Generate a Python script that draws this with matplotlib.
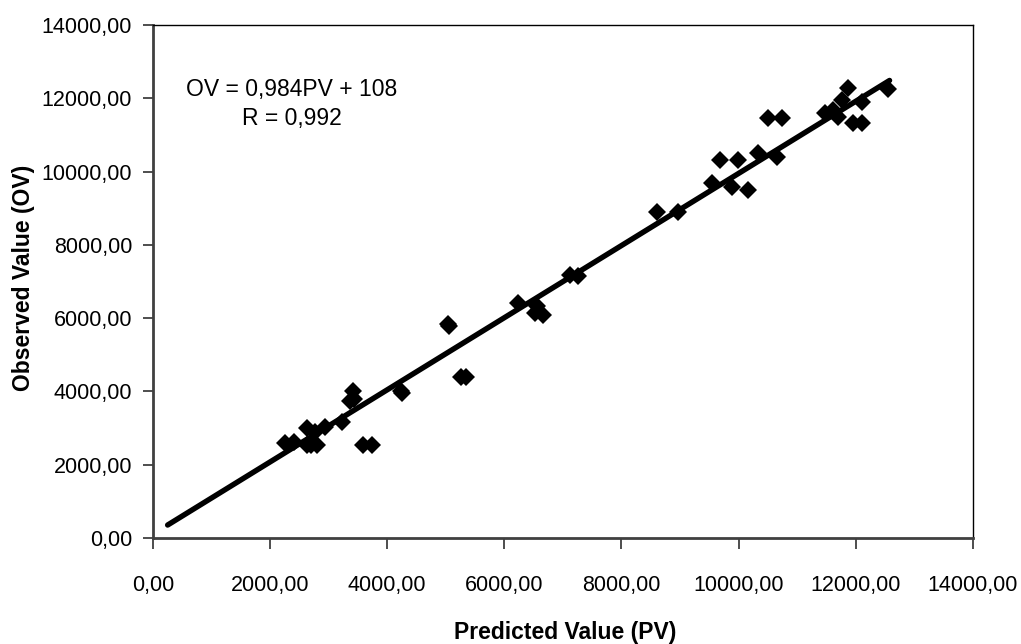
import matplotlib
matplotlib.use("Agg")
import matplotlib.pyplot as plt
from matplotlib import font_manager as fm
from matplotlib.ticker import FuncFormatter

# ---- data ----
predicted = [2254, 2400, 2625, 2770, 2940, 2625, 2700, 2800, 3220, 3360, 3420, 3440,
             3590, 3735, 4230, 4260, 5030, 5060, 5260, 5340, 6240, 6550, 6520, 6660,
             7120, 7265, 8603, 8972, 9542, 9684, 9997, 9884, 10168, 10339, 10653,
             10510, 10738, 11481, 11620, 11700, 11762, 11875, 12103, 11961, 12103, 12560]
observed = [2600, 2620, 2990, 2900, 3040, 2540, 2540, 2540, 3175, 3750, 4000, 3780,
            2540, 2540, 4000, 3950, 5830, 5790, 4400, 4400, 6400, 6330, 6130, 6080,
            7180, 7140, 8906, 8906, 9681, 10317, 10317, 9590, 9498, 10499, 10407,
            11455, 11455, 11591, 11681, 11500, 11954, 12274, 11908, 11318, 11318, 12250]
fit_slope = 0.984
fit_intercept = 108
fit_range = [250, 12580]
annotation = "OV = 0,984PV + 108\nR = 0,992"
x_ticks = [0, 2000, 4000, 6000, 8000, 10000, 12000, 14000]
y_ticks = [0, 2000, 4000, 6000, 8000, 10000, 12000, 14000]

names = {f.name for f in fm.fontManager.ttflist}
base = 'Liberation Sans' if 'Liberation Sans' in names else 'DejaVu Sans'
plt.rcParams['font.family'] = [base, 'DejaVu Sans']

fig = plt.figure(figsize=(10.21, 6.44), dpi=100)
ax = fig.add_axes([153/1021, 1-538/644, (972.7-153)/1021, (538-25)/644])

fit_y = [fit_slope * v + fit_intercept for v in fit_range]
ax.plot(fit_range, fit_y, color='black', lw=3.9, solid_capstyle='round', zorder=2)
ax.plot(predicted, observed, linestyle='none', marker='D', ms=9.3, color='black',
        markeredgewidth=0, zorder=3)

ax.set_xlim(0, 14000)
ax.set_ylim(0, 14000)
ax.set_xticks(x_ticks)
ax.set_yticks(y_ticks)
fmt = FuncFormatter(lambda v, p: f"{v:.2f}".replace('.', ','))
ax.xaxis.set_major_formatter(fmt)
ax.yaxis.set_major_formatter(fmt)

ax.tick_params(axis='x', direction='out', length=8, width=1.3, color='#404040',
               labelsize=15.5, pad=19)
ax.tick_params(axis='y', direction='out', length=7, width=1.3, color='#404040',
               labelsize=15.5, pad=8)

for s in ['left', 'bottom']:
    ax.spines[s].set_color('#404040')
    ax.spines[s].set_linewidth(2)
for s in ['top', 'right']:
    ax.spines[s].set_color('black')
    ax.spines[s].set_linewidth(1)

ax.set_xlabel("Predicted Value (PV)", fontsize=16.5, fontweight='bold')
ax.xaxis.label.set_va('center')
ax.xaxis.set_label_coords(0.5026, (538-633)/513)
ax.set_ylabel("Observed Value (OV)", fontsize=16.5, fontweight='bold')
ax.yaxis.label.set_va('center')
ax.yaxis.set_label_coords((24-153)/819.7, (538-278)/513)

ax.text((292-153)/819.7, (538-104)/513, annotation, transform=ax.transAxes,
        ha='center', va='center', multialignment='center', fontsize=16.5,
        linespacing=1.3)

fig.savefig("out.png", dpi=100)
